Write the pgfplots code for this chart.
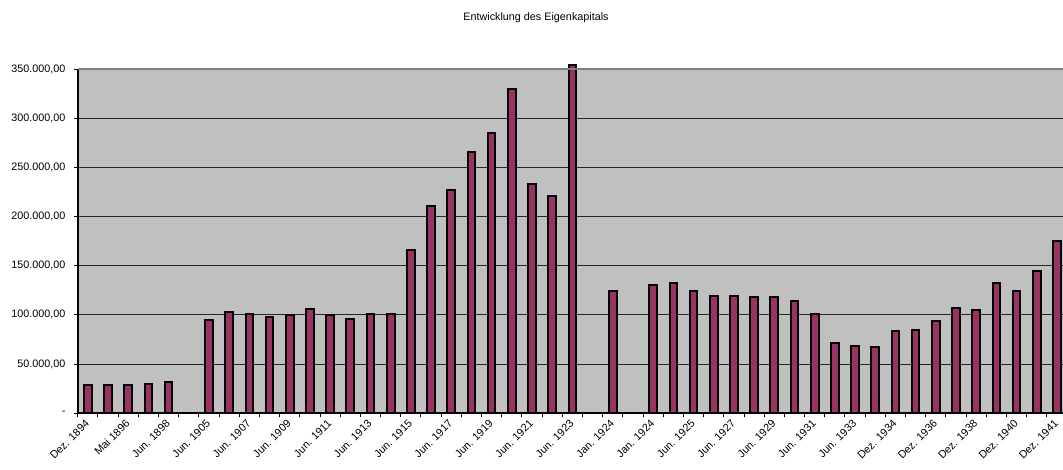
\documentclass[border=0pt]{standalone}
\usepackage{pgfplots}
\pgfplotsset{compat=1.18}
\usepackage{pgfplotstable}
\usepackage{fontspec}
\setmainfont{Liberation Sans}
\definecolor{plotbg}{HTML}{C0C0C0}
\definecolor{barcol}{HTML}{993366}
\definecolor{bordergray}{HTML}{808080}
\pgfplotstableread{
x y
0 28500
1 28500
2 28500
3 29800
4 31500
6 95000
7 103000
8 101300
9 97700
10 99700
11 106400
12 100300
13 96300
14 100700
15 101300
16 165900
17 210900
18 227000
19 265800
20 284500
21 329700
22 232700
23 220800
24 354500
26 124700
28 130800
29 132900
30 124400
31 119000
32 119300
33 118000
34 118600
35 114600
36 101000
37 71200
38 68200
39 67800
40 83400
41 85000
42 93900
43 107100
44 105400
45 132600
46 124400
47 144800
48 175600
}\eigenkapital
\begin{document}
\fontsize{8.1pt}{9.5pt}\selectfont
\begin{tikzpicture}
\useasboundingbox (0,0) rectangle (797.25pt,351.75pt);
\node[anchor=base] at (402pt,336.4pt) {Entwicklung des Eigenkapitals};
\begin{axis}[
  at={(58.3pt,41.8pt)}, anchor=south west,
  scale only axis, width=742pt, height=258.2pt,
  xmin=-0.5, xmax=48.5, ymin=0, ymax=350000,
  clip=false,
  scaled y ticks=false,
  axis background/.style={fill=plotbg},
  axis x line*=bottom, axis y line*=left,
  axis line style={black, line width=1.5pt, -},
  ytick={0,50000,...,350000},
  yticklabels={{-\hspace{9.7pt}},{50.000,00},{100.000,00},{150.000,00},{200.000,00},{250.000,00},{300.000,00},{350.000,00}},
  ymajorgrids, major grid style={black!85, line width=0.75pt},
  xtick={0,2,...,48},
  xticklabels={Dez. 1894, Mai 1896, Jun. 1898, Jun. 1905, Jun. 1907, Jun. 1909, Jun. 1911, Jun. 1913, Jun. 1915, Jun. 1917, Jun. 1919, Jun. 1921, Jun. 1923, Jan. 1924, Jan. 1924, Jun. 1925, Jun. 1927, Jun. 1929, Jun. 1931, Jun. 1933, Dez. 1934, Dez. 1936, Dez. 1938, Dez. 1940, Dez. 1941},
  minor xtick={-0.5,0.5,...,48.5},
  tick align=outside,
  major x tick style={draw=none},
  major y tick style={black, line width=0.75pt},
  minor x tick style={black, line width=0.75pt},
  major tick length=3pt, minor tick length=3pt,
  tick label style={font=\fontsize{8.1pt}{9.5pt}\selectfont},
  xticklabel style={rotate=45, anchor=east, inner sep=1pt, xshift=-1.5pt, yshift=-2pt},
  yticklabel style={anchor=east, inner sep=0pt, xshift=-6pt},
  ybar, bar width=0.38,
]
\addplot[fill=barcol, draw=black, line width=1.5pt] table[x=x,y=y] {\eigenkapital};
\draw[bordergray, line width=2pt] (rel axis cs:0,1) -- (rel axis cs:1,1);
\end{axis}
\end{tikzpicture}
\end{document}
